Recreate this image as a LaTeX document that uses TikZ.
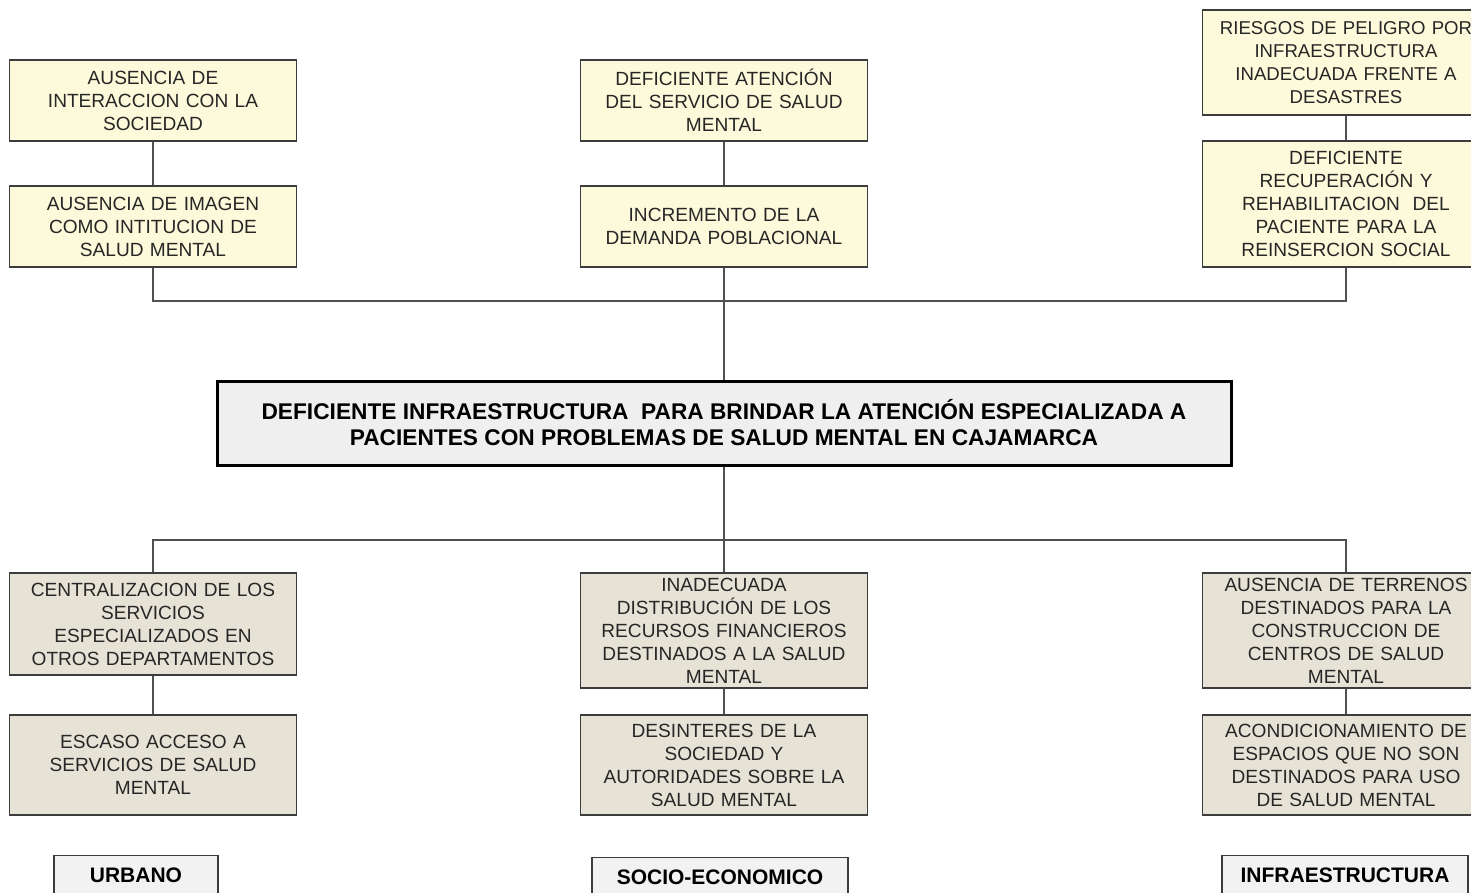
\documentclass[tikz,border=0pt]{standalone}
\usepackage{fontspec}
\setmainfont{Liberation Sans}
\usepackage{tikz}

\definecolor{efectofill}{RGB}{252,250,218}
\definecolor{causafill}{RGB}{230,227,214}
\definecolor{rotulofill}{RGB}{242,242,242}
\definecolor{centralfill}{RGB}{239,239,239}
\definecolor{linea}{RGB}{60,60,60}

\tikzset{
	caja/.style={draw=linea, line width=1.3pt, inner sep=0pt, text width=287pt, align=center,
		text=black!85, font=\fontsize{19.1}{23}\selectfont},
	efecto/.style={caja, fill=efectofill},
	causa/.style={caja, fill=causafill},
	rotulo/.style={draw=linea, line width=1.3pt, fill=rotulofill, inner sep=0pt, minimum height=40pt,
		anchor=north, font=\fontsize{21}{25}\selectfont\bfseries},
	enlace/.style={draw=linea!90, line width=1.3pt}
}

\begin{document}
\begin{tikzpicture}[x=1pt, y=-1pt]
	\useasboundingbox (0,0) rectangle (1471,892);
	% efectos
	\node[efecto, minimum height=81pt] (a1) at (153,100.5) {AUSENCIA DE\\INTERACCION CON LA\\SOCIEDAD};
	\node[efecto, minimum height=81pt] (a2) at (153,226.5) {AUSENCIA DE IMAGEN\\COMO INTITUCION DE\\SALUD MENTAL};
	\node[efecto, minimum height=81pt] (b1) at (724,100.5) {DEFICIENTE ATENCIÓN\\DEL SERVICIO DE SALUD\\MENTAL};
	\node[efecto, minimum height=81pt] (b2) at (724,226.5) {INCREMENTO DE LA\\DEMANDA POBLACIONAL};
	\node[efecto, minimum height=105pt, font=\fontsize{18.6}{23}\selectfont] (c1) at (1346,62.5)
		{RIESGOS DE PELIGRO POR\hspace*{9pt}\\INFRAESTRUCTURA\\INADECUADA FRENTE A\\DESASTRES};
	\node[efecto, minimum height=126pt] (c2) at (1346,204) {DEFICIENTE\\RECUPERACIÓN Y\\REHABILITACION\ \ DEL\\PACIENTE PARA LA\\REINSERCION SOCIAL};
	% problema central
	\node[draw=black, line width=3pt, fill=centralfill, minimum width=1014pt, minimum height=84pt, inner sep=0pt,
		align=center, font=\fontsize{22.7}{26}\selectfont\bfseries] (central) at (724,423)
		{DEFICIENTE INFRAESTRUCTURA\ \ PARA BRINDAR LA ATENCIÓN ESPECIALIZADA A\\PACIENTES CON PROBLEMAS DE SALUD MENTAL EN CAJAMARCA};
	% causas
	\node[causa, minimum height=102pt] (d1) at (153,624) {CENTRALIZACION DE LOS\\SERVICIOS\\ESPECIALIZADOS EN\\OTROS DEPARTAMENTOS};
	\node[causa, minimum height=100pt] (d2) at (153,765) {ESCASO ACCESO A\\SERVICIOS DE SALUD\\MENTAL};
	\node[causa, minimum height=115pt] (e1) at (724,630.5) {INADECUADA\\DISTRIBUCIÓN DE LOS\\RECURSOS FINANCIEROS\\DESTINADOS A LA SALUD\\MENTAL};
	\node[causa, minimum height=100pt] (e2) at (724,765) {DESINTERES DE LA\\SOCIEDAD Y\\AUTORIDADES SOBRE LA\\SALUD MENTAL};
	\node[causa, minimum height=115pt] (f1) at (1346,630.5) {AUSENCIA DE TERRENOS\\DESTINADOS PARA LA\\CONSTRUCCION DE\\CENTROS DE SALUD\\MENTAL};
	\node[causa, minimum height=100pt] (f2) at (1346,765) {ACONDICIONAMIENTO DE\\ESPACIOS QUE NO SON\\DESTINADOS PARA USO\\DE SALUD MENTAL};
	% rotulos
	\node[rotulo, minimum width=164pt] (urbano) at (136,855) {URBANO};
	\node[rotulo, minimum width=256pt] (socio) at (720,857) {SOCIO-ECONOMICO};
	\node[rotulo, minimum width=246pt] (infra) at (1345,855) {INFRAESTRUCTURA};
	% enlaces
	\coordinate (busup) at (724,301);
	\coordinate (busdn) at (724,540);
	\foreach \s/\t in {a1/a2, b1/b2, c1/c2, d1/d2, e1/e2, f1/f2}
		\draw[enlace] (\s) -- (\t);
	\draw[enlace] (a2.south) |- (busup) -| (c2.south);
	\draw[enlace] (b2.south) -- (central.north);
	\draw[enlace] (central.south) -- (busdn);
	\draw[enlace] (d1.north) |- (busdn) -| (f1.north);
	\draw[enlace] (busdn) -- (e1.north);
\end{tikzpicture}
\end{document}
